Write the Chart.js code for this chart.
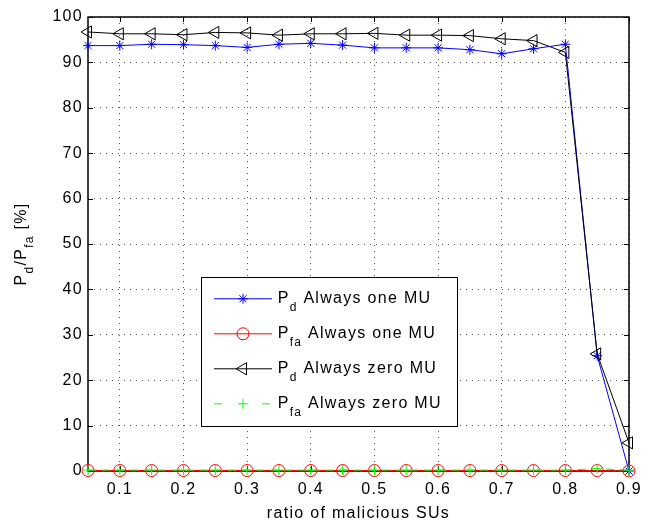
<!DOCTYPE html>
<html>
<head>
<meta charset="utf-8">
<script src="https://cdn.jsdelivr.net/npm/chart.js@4/dist/chart.umd.min.js"></script>
<style>
  html, body { margin: 0; padding: 0; background: #fff; }
  canvas { display: block; }
</style>
</head>
<body>
<canvas id="c" width="658" height="522"></canvas>
<script>
// Ratio of malicious secondary users on the x axis
const xValues = [0.05, 0.10, 0.15, 0.20, 0.25, 0.30, 0.35, 0.40, 0.45,
                 0.50, 0.55, 0.60, 0.65, 0.70, 0.75, 0.80, 0.85, 0.90];

// Detection / false-alarm probabilities in percent
const pdOneMU   = [93.7, 93.7, 94.0, 93.9, 93.7, 93.3, 94.0, 94.2, 93.8,
                   93.2, 93.2, 93.2, 92.8, 91.9, 93.0, 94.0, 25.4, 0.0];
const pfaOneMU  = [0.1, 0.1, 0.1, 0.1, 0.1, 0.1, 0.1, 0.1, 0.1,
                   0.1, 0.1, 0.1, 0.1, 0.1, 0.1, 0.1, 0.1, 0.0];
const pdZeroMU  = [96.7, 96.3, 96.3, 96.1, 96.6, 96.5, 96.0, 96.3, 96.3,
                   96.4, 96.0, 96.0, 95.9, 95.2, 94.8, 92.2, 25.8, 6.2];
const pfaZeroMU = [0.2, 0.2, 0.2, 0.2, 0.2, 0.2, 0.2, 0.2, 0.2,
                   0.2, 0.2, 0.2, 0.2, 0.2, 0.2, 0.2, 0.5, 0.2];

// Axis ticks
const xTickValues = [0.1, 0.2, 0.3, 0.4, 0.5, 0.6, 0.7, 0.8, 0.9];
const xTickLabels = ['0.1', '0.2', '0.3', '0.4', '0.5', '0.6', '0.7', '0.8', '0.9'];
const yTickValues = [0, 10, 20, 30, 40, 50, 60, 70, 80, 90, 100];
const yTickLabels = ['0', '10', '20', '30', '40', '50', '60', '70', '80', '90', '100'];

// Legend text: symbol, subscript, description
const legendSymbols = ['P', 'P', 'P', 'P'];
const legendSubs    = ['d', 'fa', 'd', 'fa'];
const legendTexts   = ['Always one MU', 'Always one MU', 'Always zero MU', 'Always zero MU'];

const xTitle = 'ratio of malicious SUs';

const FONT = '"Liberation Sans", Arial, Helvetica, sans-serif';
const SPACING = '1.3px';
const TICK = 5;

const pts = vals => xValues.map((x, i) => ({ x, y: vals[i] }));

function richText(ctx, parts, x, y) {
  // parts: [[text, isSub], ...], left-aligned at x, baseline y
  let cx = x;
  parts.forEach(([t, sub]) => {
    ctx.font = (sub ? '12px ' : '16px ') + FONT;
    ctx.fillText(t, cx, y + (sub ? 7.7 : 0));
    cx += ctx.measureText(t).width;
  });
  return cx - x;
}
function richWidth(ctx, parts) {
  let w = 0;
  parts.forEach(([t, sub]) => {
    ctx.font = (sub ? '12px ' : '16px ') + FONT;
    w += ctx.measureText(t).width;
  });
  return w;
}

const decor = {
  id: 'decor',
  beforeDraw(chart) {
    chart.ctx.letterSpacing = SPACING;
  },
  beforeDatasetsDraw(chart) {
    const { ctx, chartArea: a, scales: { x, y } } = chart;
    ctx.save();
    ctx.strokeStyle = '#000';
    ctx.lineWidth = 1;
    ctx.beginPath();
    xTickValues.forEach(v => {
      const px = Math.round(x.getPixelForValue(v)) + 0.5;
      ctx.moveTo(px, a.bottom); ctx.lineTo(px, a.bottom - TICK);
      ctx.moveTo(px, a.top);    ctx.lineTo(px, a.top + TICK);
    });
    yTickValues.forEach(v => {
      const py = Math.round(y.getPixelForValue(v)) + 0.5;
      ctx.moveTo(a.left, py);  ctx.lineTo(a.left + TICK, py);
      ctx.moveTo(a.right, py); ctx.lineTo(a.right - TICK, py);
    });
    ctx.stroke();
    ctx.lineWidth = 1.5;
    ctx.strokeRect(a.left, a.top, a.right - a.left, a.bottom - a.top);

    // axis titles
    ctx.letterSpacing = SPACING;
    ctx.fillStyle = '#000';
    ctx.textBaseline = 'alphabetic';
    ctx.textAlign = 'center';
    ctx.font = '16px ' + FONT;
    ctx.fillText(xTitle, (a.left + a.right) / 2, 518);

    ctx.textAlign = 'left';
    const yParts = [['P', false], ['d', true], ['/P', false], ['fa', true], [' [%]', false]];
    const w = richWidth(ctx, yParts);
    ctx.translate(25.5, (a.top + a.bottom) / 2);
    ctx.rotate(-Math.PI / 2);
    richText(ctx, yParts, -w / 2, 0);
    ctx.restore();
  },
  afterDatasetsDraw(chart) {
    const { ctx } = chart;
    const box = { l: 201.5, t: 277.5, r: 457.5, b: 426.5 };
    ctx.save();
    ctx.letterSpacing = SPACING;
    ctx.fillStyle = '#fff';
    ctx.fillRect(box.l, box.t, box.r - box.l, box.b - box.t);
    ctx.strokeStyle = '#000';
    ctx.lineWidth = 1;
    ctx.strokeRect(box.l, box.t, box.r - box.l, box.b - box.t);

    const baselines = [303.3, 338.3, 373.3, 408.3];
    chart.data.datasets.forEach((ds, i) => {
      const ly = baselines[i] - 4.5;
      ctx.save();
      ctx.strokeStyle = ds.borderColor;
      ctx.lineWidth = ds.borderWidth;
      ctx.setLineDash(ds.borderDash && ds.borderDash.length ? [8, 40] : []);
      ctx.beginPath();
      ctx.moveTo(214, ly); ctx.lineTo(272, ly);
      ctx.stroke();
      ctx.setLineDash([]);
      ctx.strokeStyle = ds.pointBorderColor;
      ctx.fillStyle = 'rgba(0,0,0,0)';
      ctx.lineWidth = 1;
      Chart.helpers.drawPoint(ctx, {
        pointStyle: ds.pointStyle,
        radius: ds.pointRadius,
        rotation: ds.pointRotation || 0,
        borderWidth: 1
      }, 243, ly);
      ctx.restore();

      ctx.fillStyle = '#000';
      ctx.textAlign = 'left';
      ctx.textBaseline = 'alphabetic';
      richText(ctx, [[legendSymbols[i], false], [legendSubs[i], true], [' ' + legendTexts[i], false]],
               277.7, baselines[i]);
    });
    ctx.restore();
  }
};

const common = {
  showLine: true,
  borderWidth: 1,
  pointBorderWidth: 1,
  pointBackgroundColor: 'rgba(0,0,0,0)',
  backgroundColor: 'rgba(0,0,0,0)',
  tension: 0,
  clip: false
};

new Chart(document.getElementById('c'), {
  type: 'scatter',
  data: {
    datasets: [
      Object.assign({}, common, {
        label: 'Pd Always one MU', data: pts(pdOneMU), order: 3,
        borderColor: '#0000ff', pointBorderColor: '#0000ff',
        pointStyle: 'star', pointRadius: 5
      }),
      Object.assign({}, common, {
        label: 'Pfa Always one MU', data: pts(pfaOneMU), order: 2,
        borderColor: '#ff0000', pointBorderColor: '#ff0000',
        pointStyle: 'circle', pointRadius: 6
      }),
      Object.assign({}, common, {
        label: 'Pd Always zero MU', data: pts(pdZeroMU), order: 1,
        borderColor: '#000000', pointBorderColor: '#000000',
        pointStyle: 'triangle', pointRotation: -90, pointRadius: 7
      }),
      Object.assign({}, common, {
        label: 'Pfa Always zero MU', data: pts(pfaZeroMU), order: 0,
        borderColor: '#00ff00', pointBorderColor: '#00ff00',
        borderDash: [8, 6],
        pointStyle: 'cross', pointRadius: 5
      })
    ]
  },
  options: {
    responsive: false,
    animation: false,
    events: [],
    layout: { padding: { top: 17, right: 29, left: 0, bottom: 0 } },
    plugins: { legend: { display: false }, tooltip: { enabled: false } },
    scales: {
      x: {
        type: 'linear',
        min: 0.05, max: 0.9,
        bounds: 'data',
        afterBuildTicks: s => { s.ticks = xTickValues.map(v => ({ value: v })); },
        afterFit: s => { s.height = 51; },
        grid: { color: '#555', lineWidth: 1, drawTicks: false },
        border: { display: false, dash: [1, 5] },
        ticks: {
          autoSkip: false, maxRotation: 0, padding: 9,
          color: '#000', font: { family: FONT, size: 16 },
          callback: (v, i) => xTickLabels[i]
        }
      },
      y: {
        type: 'linear',
        min: 0, max: 100,
        bounds: 'data',
        afterBuildTicks: s => { s.ticks = yTickValues.map(v => ({ value: v })); },
        afterFit: s => { s.width = 88; },
        grid: { color: '#555', lineWidth: 1, drawTicks: false },
        border: { display: false, dash: [1, 5] },
        ticks: {
          autoSkip: false, padding: 5,
          color: '#000', font: { family: FONT, size: 16 },
          callback: (v, i) => yTickLabels[i]
        }
      }
    }
  },
  plugins: [decor]
});
</script>
</body>
</html>
